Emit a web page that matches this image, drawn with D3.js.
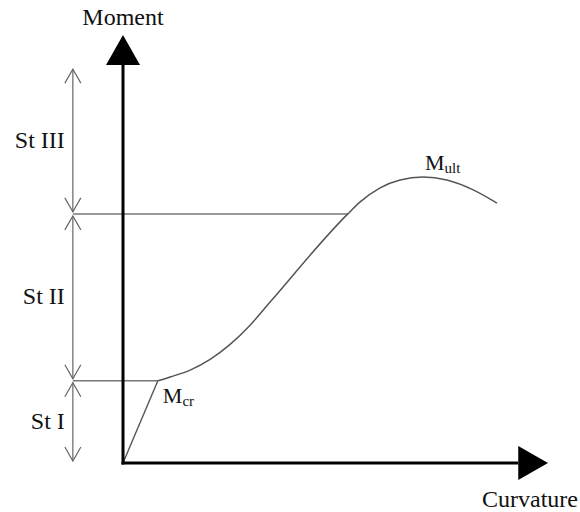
<!DOCTYPE html>
<html>
<head>
<meta charset="utf-8">
<script src="https://cdn.jsdelivr.net/npm/d3@7"></script>
<style>
  body { margin: 0; background: #fff; }
  text { font-family: "Liberation Serif", "Times New Roman", serif; fill: #111; }
</style>
</head>
<body>
<svg id="chart" width="580" height="512"></svg>
<script>
// moment-curvature curve, arbitrary units (0..100 on each axis)
const curvature = [0, 8.2, 11.1, 15.8, 20.5, 25.2, 29.9, 34.6, 52.9, 55.8, 60.5, 65.2, 70.6, 76.2, 82.4, 88.0];
const moment    = [0, 19.2, 20.1, 21.7, 24.2, 27.7, 32.2, 37.6, 58.2, 61.0, 64.3, 66.1, 66.8, 66.1, 63.8, 60.7];

const stageNames = ["St I", "St II", "St III"];
const stageFrom  = [0, 19.2, 58.2];
const stageTo    = [19.2, 58.2, 92.5];

const dimX = -11.8;          // curvature position of the stage dimension line
const crackIdx = 1, yieldIdx = 8, ultIdx = 12;

const svg = d3.select("#chart");

const x = d3.scaleLinear().domain([0, 100]).range([123, 548]);
const y = d3.scaleLinear().domain([0, 100]).range([463, 35]);

const pts = curvature.map((c, i) => ({ c: c, m: moment[i] }));

// horizontal reference lines at cracking and yield
svg.append("g")
    .selectAll("line")
    .data([crackIdx, yieldIdx])
    .enter().append("line")
    .attr("x1", x(dimX))
    .attr("x2", i => x(pts[i].c))
    .attr("y1", i => y(pts[i].m))
    .attr("y2", i => y(pts[i].m))
    .attr("stroke", "#777")
    .attr("stroke-width", 1.5);

// elastic part (straight) and cracked part (smooth)
const straight = d3.line().x(d => x(d.c)).y(d => y(d.m));
const smooth = d3.line().x(d => x(d.c)).y(d => y(d.m)).curve(d3.curveMonotoneX);

svg.append("path")
    .attr("d", straight(pts.slice(0, crackIdx + 1)))
    .attr("fill", "none")
    .attr("stroke", "#555")
    .attr("stroke-width", 1.4);

svg.append("path")
    .attr("d", smooth(pts.slice(crackIdx)))
    .attr("fill", "none")
    .attr("stroke", "#555")
    .attr("stroke-width", 1.5);

// axes
const axisColor = "#000";
svg.append("line")
    .attr("x1", x(0)).attr("y1", y(0) + 1.5)
    .attr("x2", x(0)).attr("y2", y(93))
    .attr("stroke", axisColor).attr("stroke-width", 3);
svg.append("line")
    .attr("x1", x(0) - 1.5).attr("y1", y(0))
    .attr("x2", x(93)).attr("y2", y(0))
    .attr("stroke", axisColor).attr("stroke-width", 3);

// arrow heads
svg.append("path")
    .attr("d", `M${x(0)},${y(100)} L${x(0) - 17},${y(93)} L${x(0) + 17},${y(93)} Z`)
    .attr("fill", axisColor);
svg.append("path")
    .attr("d", `M${x(100)},${y(0)} L${x(93)},${y(0) - 17} L${x(93)},${y(0) + 17} Z`)
    .attr("fill", axisColor);

svg.append("text")
    .attr("x", x(0)).attr("y", 25)
    .attr("text-anchor", "middle")
    .attr("font-size", 24)
    .text("Moment");
svg.append("text")
    .attr("x", 530).attr("y", 507)
    .attr("text-anchor", "middle")
    .attr("font-size", 24)
    .text("Curvature");

// stage dimension arrows
const dim = svg.append("g").attr("stroke", "#666").attr("stroke-width", 1.2).attr("fill", "none");
const gap = 2, ah = 14, aw = 8;
const dx = x(dimX);
stageNames.forEach((name, i) => {
    const top = y(stageTo[i]) + gap;
    const bot = y(stageFrom[i]) - gap;
    dim.append("line").attr("x1", dx).attr("x2", dx).attr("y1", top).attr("y2", bot);
    dim.append("path").attr("d", `M${dx - aw},${top + ah} L${dx},${top} L${dx + aw},${top + ah}`);
    dim.append("path").attr("d", `M${dx - aw},${bot - ah} L${dx},${bot} L${dx + aw},${bot - ah}`);
    svg.append("text")
        .attr("x", dx - 8)
        .attr("y", (top + bot) / 2 + 7)
        .attr("text-anchor", "end")
        .attr("font-size", 24)
        .text(name);
});

// point labels with subscripts
function subLabel(px, py, main, sub) {
    const t = svg.append("text").attr("x", px).attr("y", py).attr("font-size", 22);
    t.append("tspan").text(main);
    t.append("tspan").attr("font-size", 15).attr("dy", 3).text(sub);
}
subLabel(x(pts[crackIdx].c) + 5, y(pts[crackIdx].m) + 22, "M", "cr");
subLabel(x(pts[ultIdx].c) + 2, y(pts[ultIdx].m) - 7, "M", "ult");
</script>
</body>
</html>
